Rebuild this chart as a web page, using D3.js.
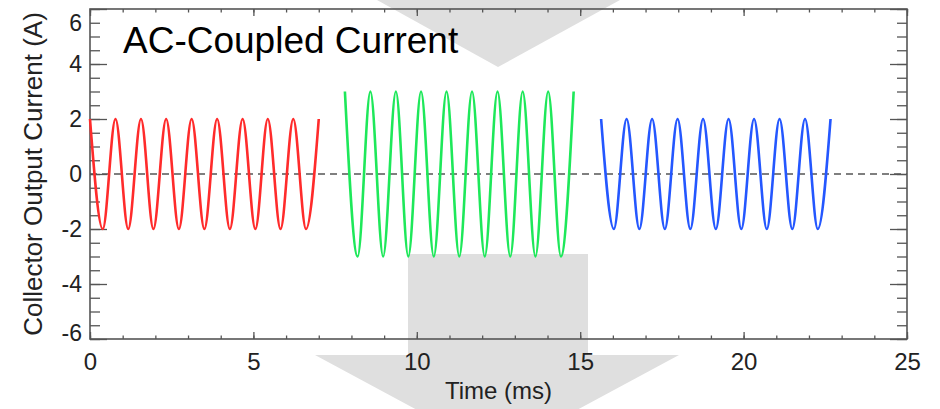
<!DOCTYPE html>
<html>
<head>
<meta charset="utf-8">
<style>
    body { margin: 0; background: #fff; }
    svg { display: block; font-family: "Liberation Sans", Arial, sans-serif; }
    .axis .domain { display: none; }
    .axis .tick line { stroke: #555; stroke-width: 1.3; }
    .axis .tick text { fill: #222; }
</style>
</head>
<body>
<svg width="940" height="409"></svg>

<script src="https://d3js.org/d3.v7.min.js"></script>
<script>

    // extrema of each burst (time in ms, current in A)
    let redTime = [0, 0.39, 0.78, 1.17, 1.56, 1.94, 2.33, 2.72, 3.11, 3.5, 3.89, 4.28, 4.67, 5.06, 5.44, 5.83, 6.22, 6.61, 7.0]
    let redCurrent = [2, -2, 2, -2, 2, -2, 2, -2, 2, -2, 2, -2, 2, -2, 2, -2, 2, -2, 2]

    let greenTime = [7.8, 8.19, 8.58, 8.97, 9.36, 9.74, 10.13, 10.52, 10.91, 11.3, 11.69, 12.08, 12.47, 12.86, 13.24, 13.63, 14.02, 14.41, 14.8]
    let greenCurrent = [3, -3, 3, -3, 3, -3, 3, -3, 3, -3, 3, -3, 3, -3, 3, -3, 3, -3, 3]

    let blueTime = [15.64, 16.03, 16.42, 16.81, 17.2, 17.59, 17.98, 18.37, 18.76, 19.15, 19.54, 19.93, 20.32, 20.71, 21.1, 21.49, 21.88, 22.27, 22.66]
    let blueCurrent = [2, -2, 2, -2, 2, -2, 2, -2, 2, -2, 2, -2, 2, -2, 2, -2, 2, -2, 2]

    let xTickLabels = [0, 5, 10, 15, 20, 25]
    let yTickLabels = [-6, -4, -2, 0, 2, 4, 6]

    let width = 940
    let height = 409
    let margin = { top: 9, right: 33, bottom: 70, left: 90 }

    let svg = d3.select("svg")

    // light grey arrow shapes sitting behind the plot
    let bg = svg.append("g").attr("fill", "#dfdfdf")
    bg.append("polygon").attr("points", "377,0 620,0 498,67")
    bg.append("rect").attr("x", 408).attr("y", 254).attr("width", 180).attr("height", 102)
    bg.append("polygon").attr("points", "315,355 679,355 497,453")

    let x = d3.scaleLinear()
        .domain([0, 25])
        .range([margin.left, width - margin.right])

    let y = d3.scaleLinear()
        .domain([-6, 6])
        .range([height - margin.bottom, margin.top])

    let x0 = x.range()[0], x1 = x.range()[1]
    let y0 = y.range()[0], y1 = y.range()[1]

    // minor ticks
    let xMinor = d3.range(0, 26, 1)
    let yMinor = d3.range(-6, 6.01, 0.5)

    svg.append("g").attr("class", "axis")
        .attr("transform", `translate(0,${y0})`)
        .call(d3.axisBottom(x).tickValues(xMinor).tickSize(-3.5).tickFormat(""))
    svg.append("g").attr("class", "axis")
        .attr("transform", `translate(0,${y1})`)
        .call(d3.axisTop(x).tickValues(xMinor).tickSize(-3.5).tickFormat(""))
    svg.append("g").attr("class", "axis")
        .attr("transform", `translate(${x0},0)`)
        .call(d3.axisLeft(y).tickValues(yMinor).tickSize(-10).tickFormat(""))
    svg.append("g").attr("class", "axis")
        .attr("transform", `translate(${x1},0)`)
        .call(d3.axisRight(y).tickValues(yMinor).tickSize(-10).tickFormat(""))

    // major ticks with labels
    svg.append("g").attr("class", "axis")
        .attr("transform", `translate(0,${y0})`)
        .call(d3.axisBottom(x).tickValues(xTickLabels).tickSize(-7).tickPadding(14).tickFormat(d => String(d)))
        .call(g => g.selectAll(".tick text").style("font-size", "24px"))
    svg.append("g").attr("class", "axis")
        .attr("transform", `translate(0,${y1})`)
        .call(d3.axisTop(x).tickValues(xTickLabels).tickSize(-7).tickFormat(""))
    svg.append("g").attr("class", "axis")
        .attr("transform", `translate(${x0},0)`)
        .call(d3.axisLeft(y).tickValues(yTickLabels).tickSize(-17).tickPadding(8).tickFormat(d => String(d)))
        .call(g => g.selectAll(".tick text")
            .style("font-size", "23px")
            // end labels sit inside the frame, as in the original
            .attr("dy", d => d === 6 ? "0.95em" : d === -6 ? "0.05em" : "0.32em"))
    svg.append("g").attr("class", "axis")
        .attr("transform", `translate(${x1},0)`)
        .call(d3.axisRight(y).tickValues(yTickLabels).tickSize(-17).tickFormat(""))

    // frame
    svg.append("rect")
        .attr("x", x0).attr("y", y1)
        .attr("width", x1 - x0).attr("height", y0 - y1)
        .attr("fill", "none")
        .attr("stroke", "#555")
        .attr("stroke-width", 1.6)

    // zero line
    svg.append("line")
        .attr("x1", x0).attr("x2", x1)
        .attr("y1", y(0)).attr("y2", y(0))
        .attr("stroke", "#555")
        .attr("stroke-width", 1.3)
        .attr("stroke-dasharray", "7,5")

    let line = d3.line()
        .x(d => x(d[0]))
        .y(d => y(d[1]))
        .curve(d3.curveMonotoneX)

    let series = [
        { t: redTime, v: redCurrent, color: "#ff2b2b" },
        { t: greenTime, v: greenCurrent, color: "#1ee85a" },
        { t: blueTime, v: blueCurrent, color: "#2457ff" }
    ]

    svg.append("g")
        .selectAll("path")
        .data(series)
        .join("path")
        .attr("d", s => line(s.t.map((t, i) => [t, s.v[i]])))
        .attr("fill", "none")
        .attr("stroke", s => s.color)
        .attr("stroke-width", 2.6)

    // labels
    svg.append("text")
        .attr("x", 123)
        .attr("y", 53)
        .style("font-size", "37px")
        .style("fill", "#000")
        .text("AC-Coupled Current")

    svg.append("text")
        .attr("x", (x0 + x1) / 2)
        .attr("y", 399)
        .attr("text-anchor", "middle")
        .style("font-size", "24px")
        .style("fill", "#222")
        .text("Time (ms)")

    svg.append("text")
        .attr("transform", `translate(42,${(y0 + y1) / 2}) rotate(-90)`)
        .attr("text-anchor", "middle")
        .style("font-size", "26px")
        .style("fill", "#222")
        .text("Collector Output Current (A)")

</script>
</body>
</html>
